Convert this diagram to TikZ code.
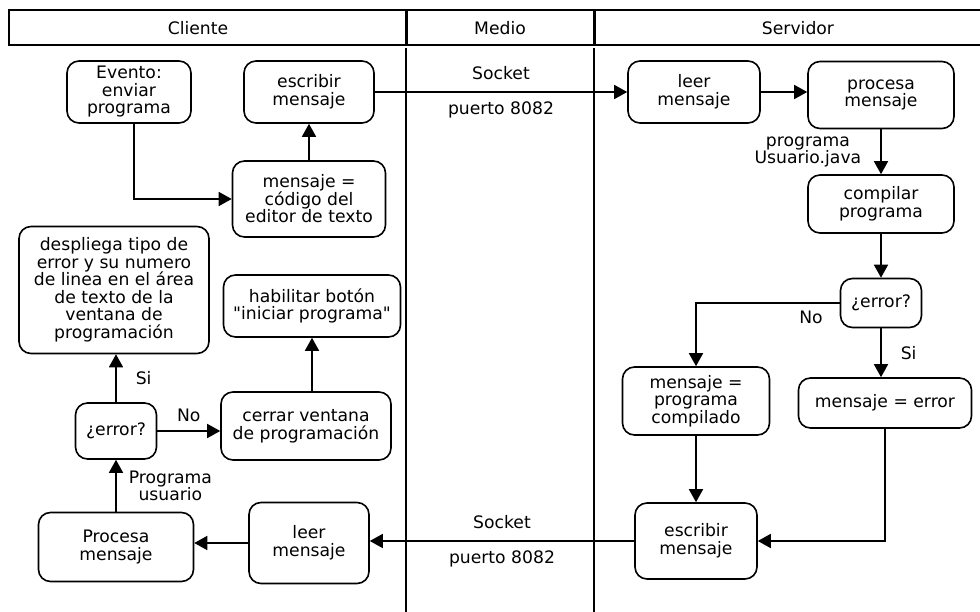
\documentclass[tikz,border=0pt]{standalone}
\usepackage{fontspec}
\setmainfont{DejaVu Sans}
\usetikzlibrary{arrows.meta}

\tikzset{
    caja/.style={draw,line width=1.6pt,rounded corners=12pt,align=center,inner sep=0pt},
    flecha/.style={-{Triangle[length=13pt,width=14pt]},line width=1.6pt},
    etiqueta/.style={inner sep=3pt,align=center},
}

\begin{document}
\begin{tikzpicture}[x=1pt,y=-1pt,every node/.style={font=\fontsize{17.2}{17.5}\selectfont}]
        \useasboundingbox (0,0) rectangle (980,612);
        % encabezado y carriles
        \draw[line width=1.5pt](9,10) rectangle (406,45);
        \draw[line width=1.5pt](406,10) rectangle (594,45);
        \draw[line width=1.5pt](594,10) rectangle (1000,45);
        \draw[line width=3pt](406,10)--(406,45);
        \draw[line width=3pt](594,10)--(594,45);
        \node (cliente) at (198,28) {Cliente};
        \node (medio) at (500,28) {Medio};
        \node (servidor) at (798,28) {Servidor};
        \draw[line width=2pt](406,48)--(406,612);
        \draw[line width=2pt](594,48)--(594,612);

        % Cliente
        \node[caja,minimum width=124pt,minimum height=62pt] (evento) at (129,92) {Evento:\\enviar\\programa};
        \node[caja,minimum width=130pt,minimum height=62pt] (escribirC) at (309,92) {escribir\\mensaje};
        \node[caja,minimum width=153pt,minimum height=76pt] (codigo) at (309,199) {mensaje =\\código del\\editor de texto};
        \node[caja,minimum width=190pt,minimum height=127pt] (despliega) at (114,290) {despliega tipo de\\error y su numero\\de linea en el área\\de texto de la\\ventana de\\programación};
        \node[caja,minimum width=177pt,minimum height=62pt] (habilitar) at (312,306) {habilitar botón\\\textquotedbl iniciar programa\textquotedbl};
        \node[caja,minimum width=81pt,minimum height=56pt] (errorC) at (116,431) {¿error?};
        \node[caja,minimum width=170pt,minimum height=68pt] (cerrar) at (306,426) {cerrar ventana\\de programación};
        \node[caja,minimum width=155pt,minimum height=69pt] (procesaC) at (116,547) {Procesa\\mensaje};
        \node[caja,minimum width=120pt,minimum height=81pt] (leerC) at (309,543) {leer\\mensaje};

        % Servidor
        \node[caja,minimum width=132pt,minimum height=62pt] (leerS) at (694,92) {leer\\mensaje};
        \node[caja,minimum width=146pt,minimum height=67pt] (procesaS) at (881,95) {procesa\\mensaje};
        \node[caja,minimum width=146pt,minimum height=58pt] (compilar) at (881,204) {compilar\\programa};
        \node[caja,minimum width=81pt,minimum height=49pt] (errorS) at (881,303) {¿error?};
        \node[caja,minimum width=147pt,minimum height=68pt] (compilado) at (696,401) {mensaje =\\programa\\compilado};
        \node[caja,minimum width=173pt,minimum height=50pt] (mensajeError) at (885,403) {mensaje = error};
        \node[caja,minimum width=122pt,minimum height=76pt] (escribirS) at (696,541) {escribir\\mensaje};

        % conexiones
        \draw[flecha]([xshift=5pt]evento.south)|-(codigo.west);
        \draw[flecha](codigo)--(escribirC);
        \draw[flecha](escribirC)--(leerS)
            node[etiqueta,midway,above=8pt]{Socket}
            node[etiqueta,midway,below=6pt]{puerto 8082};
        \draw[flecha](leerS.east)--(leerS.east-|procesaS.west);
        \draw[flecha](procesaS)--(compilar)node[etiqueta,midway,left=16pt]{programa\\Usuario.java};
        \draw[flecha](compilar)--(errorS);
        \draw[flecha](errorS.west)-|(compilado.north)node[etiqueta,pos=0.1,below=4pt]{No};
        \draw[flecha](errorS.south)--(errorS.south|-mensajeError.north)node[etiqueta,midway,right=16pt]{Si};
        \draw[flecha](compilado)--(escribirS);
        \draw[flecha](mensajeError.south)|-(escribirS.east);
        \draw[flecha](escribirS.west)--(escribirS.west-|leerC.east)
            node[etiqueta,midway,above=8pt]{Socket}
            node[etiqueta,midway,below=6pt]{puerto 8082};
        \draw[flecha](leerC.west)--(leerC.west-|procesaC.east);
        \draw[flecha](procesaC)--(errorC)node[etiqueta,midway,right=9pt]{Programa\\usuario};
        \draw[flecha](errorC.north)--(errorC.north|-despliega.south)node[etiqueta,midway,right=16pt]{Si};
        \draw[flecha](errorC.east)--(errorC.east-|cerrar.west)node[etiqueta,midway,above=5pt]{No};
        \draw[flecha](cerrar.north-|habilitar.south)--(habilitar.south);
    \end{tikzpicture}
\end{document}
